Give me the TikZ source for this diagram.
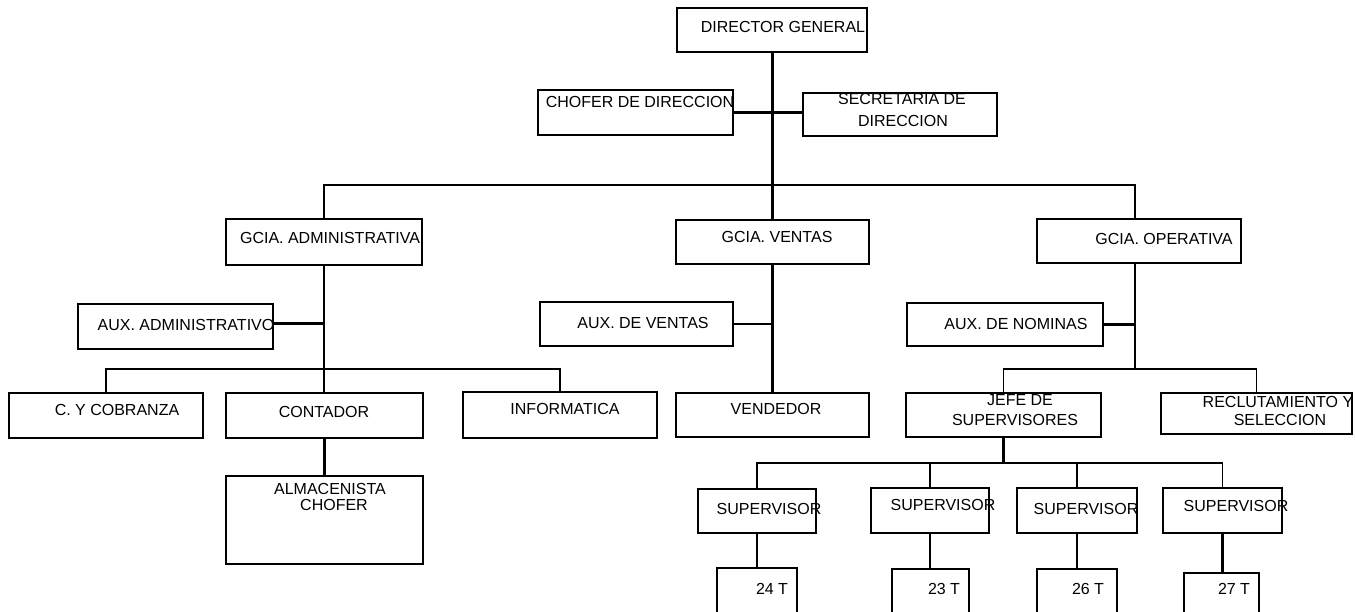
\documentclass[tikz,border=0pt]{standalone}
\usepackage{fontspec}
\setmainfont{Liberation Sans}
\newcommand\obx[5]{\node[obox, minimum width={(#4-#2)*1pt}, minimum height={(#5-#3)*1pt}] (#1) at ({(#2+#4)/2},{(#3+#5)/2}) {};}
\newcommand\lbx[4]{\node[lb] (#1) at (#2,{#3+5.7}) {#4};}
\begin{document}
\begin{tikzpicture}[x=1pt,y=-1pt,
  obox/.style={draw, line width=2.4pt, inner sep=0pt, outer sep=0pt, rectangle},
  lb/.style={anchor=base, inner sep=0pt, font=\fontsize{16}{19}\selectfont},
  cn/.style={line width=2.2pt},
  thickcn/.style={line width=3pt},
  barcn/.style={line width=1.8pt}]
\useasboundingbox[fill=white] (0,0) rectangle (1355,611);
\clip (0,0) rectangle (1355,611);
% boxes
\obx{dg}{677}{8}{867}{52}
\obx{ch}{538}{90}{733}{135}
\obx{sec}{803}{93}{997}{136}
\obx{ga}{226}{219}{422}{265}
\obx{gv}{676}{220}{869}{264}
\obx{go}{1037}{219}{1241}{263}
\obx{auxa}{78}{304}{273}{349}
\obx{auxv}{540}{302}{733}{346}
\obx{auxn}{907}{303}{1103}{346}
\obx{cob}{9}{393}{203}{438}
\obx{con}{226}{393}{423}{438}
\obx{inf}{463}{392}{657}{438}
\obx{alm}{226}{476}{423}{564}
\obx{vend}{676}{393}{869}{437}
\obx{jefe}{906}{393}{1101}{437}
\obx{rec}{1161}{393}{1352}{434}
\obx{sa}{698}{489}{816}{533}
\obx{sb}{871}{488}{989}{533}
\obx{sc}{1017}{488}{1137}{533}
\obx{sd}{1163}{488}{1282}{533}
\obx{ta}{717}{568}{797}{625}
\obx{tb}{892}{569}{969}{625}
\obx{tc}{1037}{569}{1117}{625}
\obx{td}{1184}{573}{1259}{625}
% level coordinates
\coordinate (lv1) at (0,185);
\coordinate (lvA) at (0,369);
\coordinate (lvO) at (0,369);
\coordinate (lvS) at (0,463);
\coordinate (goc) at (1135,0);
% connectors
\draw[thickcn] (dg.south) -- (dg.south |- gv.north);
\draw[cn] (ch.east) -- (ch.east -| sec.west);
\draw[barcn] (ga.north) -- (ga.north |- lv1) -- (goc |- lv1) -- (goc |- go.north);
\draw[cn] (ga.south) -- (ga.south |- con.north);
\draw[cn] ([yshift=3pt]auxa.east) -- ([yshift=3pt]auxa.east -| ga.south);
\draw[barcn] (cob.north) -- (cob.north |- lvA) -- (inf.north |- lvA) -- (inf.north);
\draw[cn] (con.south) -- (alm.north);
\draw[cn] (gv.south) -- (vend.north);
\draw[cn] (auxv.east) -- (auxv.east -| gv.south);
\draw[cn] (goc |- go.south) -- (goc |- lvO);
\draw[cn] (auxn.east) -- (auxn.east -| goc);
\draw[barcn] (jefe.north) -- (jefe.north |- lvO) -- (rec.north |- lvO) -- (rec.north);
\draw[cn] (jefe.south) -- (jefe.south |- lvS);
\draw[barcn] (sa.north) -- (sa.north |- lvS) -- (sd.north |- lvS) -- (sd.north);
\draw[barcn] (sb.north) -- (sb.north |- lvS);
\draw[barcn] (sc.north) -- (sc.north |- lvS);
\draw[cn] (sa.south) -- (sa.south |- ta.north);
\draw[cn] (sb.south) -- (sb.south |- tb.north);
\draw[cn] (sc.south) -- (sc.south |- tc.north);
\draw[cn] (sd.south) -- (sd.south |- td.north);
% labels
\lbx{ldg}{783}{27}{DIRECTOR GENERAL}
\lbx{lch}{640}{102}{CHOFER DE DIRECCION}
\lbx{lseca}{902}{99}{SECRETARIA DE}
\lbx{lsecb}{903}{121}{DIRECCION}
\lbx{lga}{330}{238}{GCIA. ADMINISTRATIVA}
\lbx{lgv}{777}{237}{GCIA. VENTAS}
\lbx{lgo}{1164}{239}{GCIA. OPERATIVA}
\lbx{lauxa}{186}{325}{AUX. ADMINISTRATIVO}
\lbx{lauxv}{643}{323}{AUX. DE VENTAS}
\lbx{lauxn}{1016}{324}{AUX. DE NOMINAS}
\lbx{lcob}{117}{410}{C. Y COBRANZA}
\lbx{lcon}{324}{412}{CONTADOR}
\lbx{linf}{565}{409}{INFORMATICA}
\lbx{lalma}{330}{489}{ALMACENISTA}
\lbx{lalmb}{334}{505}{CHOFER}
\lbx{lvend}{776}{409}{VENDEDOR}
\lbx{ljefea}{1020}{400}{JEFE DE}
\lbx{ljefeb}{1015}{420}{SUPERVISORES}
\lbx{lreca}{1278}{402}{RECLUTAMIENTO Y}
\lbx{lrecb}{1280}{420}{SELECCION}
\lbx{lsa}{769}{509}{SUPERVISOR}
\lbx{lsb}{943}{505}{SUPERVISOR}
\lbx{lsc}{1086}{509}{SUPERVISOR}
\lbx{lsd}{1236}{506}{SUPERVISOR}
\lbx{lta}{772}{589}{24 T}
\lbx{ltb}{944}{589}{23 T}
\lbx{ltc}{1088}{589}{26 T}
\lbx{ltd}{1234}{589}{27 T}
\end{tikzpicture}
\end{document}
